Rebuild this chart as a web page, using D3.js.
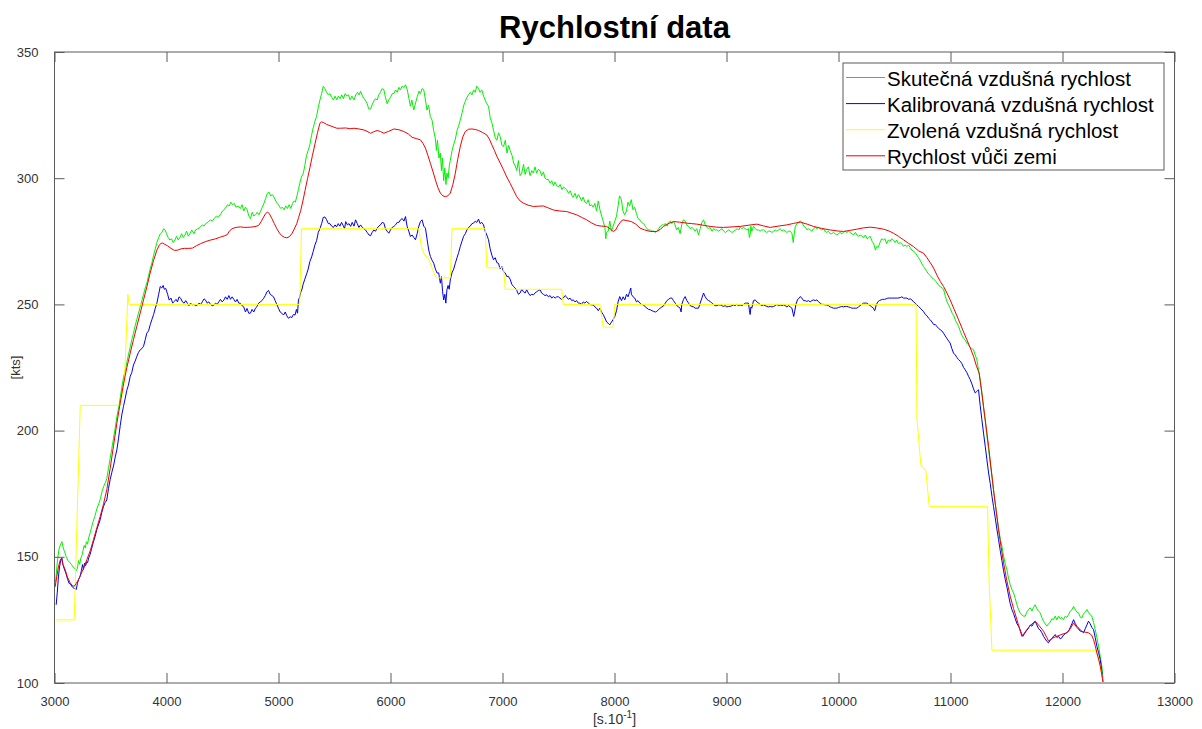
<!DOCTYPE html>
<html>
<head>
<meta charset="utf-8">
<script src="https://cdn.jsdelivr.net/npm/d3@7"></script>
<style>
  html, body { margin: 0; padding: 0; background: #fff; }
  svg { display: block; font-family: "Liberation Sans", Arial, Helvetica, sans-serif; }
</style>
</head>
<body>
<svg id="chart" width="1202" height="729"></svg>
<script>
// Axis ticks
const xTicks = [3000, 4000, 5000, 6000, 7000, 8000, 9000, 10000, 11000, 12000, 13000];
const yTicks = [100, 150, 200, 250, 300, 350];

// Series names (legend order)
const seriesNames = [
  "Skutečná vzdušná rychlost",
  "Kalibrovaná vzdušná rychlost",
  "Zvolená vzdušná rychlost",
  "Rychlost vůči zemi"
];
const seriesColors = ["#00f000", "#0000e6", "#ffff00", "#f00000"];

// True airspeed [time s*10, kts]
const trueAirspeed = [
[3010,140],[3025,148],[3040,153],[3055,155],[3066,156],[3078,153.5],[3090,152],[3105,150],[3120,148.5],[3135,147.8],
[3150,147],[3165,146],[3180,145.5],[3195,144.5],[3205,145.5],[3214,148.5],[3225,147],[3235,149.5],[3245,150.5],[3255,152.5],
[3265,154.5],[3275,153.5],[3285,156],[3295,155],[3305,157.5],[3318,159.5],[3330,161.5],[3345,164],[3360,166],[3378,169],
[3395,171],[3410,173],[3425,176],[3440,178],[3455,179.5],[3467,181],[3482,185],[3497,189],[3512,193],[3527,197],
[3542,201],[3557,205.5],[3572,209],[3587,213],[3602,217.5],[3616,221],[3630,223.5],[3646,227],[3660,230],[3676,233],
[3690,236],[3705,238.5],[3720,241.5],[3735,244],[3750,246.5],[3765,249],[3780,251.5],[3795,254],[3810,256.5],[3825,258.5],
[3840,261.5],[3854,264],[3870,266.5],[3885,269.5],[3900,272],[3914,274.5],[3930,276.5],[3945,278],[3960,278.5],[3975,280],
[3988,279.5],[4000,278],[4015,276.5],[4030,275.5],[4045,276],[4060,274.5],[4075,275.5],[4090,277],[4105,275.5],[4120,276.5],
[4135,278],[4150,276.5],[4165,277.5],[4180,279],[4195,277],[4210,278],[4225,279.5],[4245,278],[4260,279.5],[4280,280],
[4300,280.5],[4320,281.5],[4335,281],[4350,282],[4370,282.5],[4390,283.5],[4410,283],[4425,284],[4445,285],[4460,284.5],
[4480,285.5],[4500,287],[4515,287.5],[4530,288.5],[4545,289.5],[4560,289],[4575,290.5],[4590,289.5],[4605,290],[4620,288.5],
[4640,289],[4660,288],[4675,289.5],[4690,287],[4705,288.5],[4720,287.5],[4735,285],[4750,284],[4765,286.5],[4780,285],
[4795,285.5],[4810,286.5],[4825,285.5],[4840,287],[4855,288.5],[4870,290],[4885,292],[4900,294],[4915,294.5],[4930,293],
[4945,293.5],[4960,292.5],[4975,291],[4990,290],[5005,289],[5020,288],[5035,288.5],[5050,287.5],[5065,289],[5080,288],
[5095,289.5],[5110,288],[5125,290],[5140,291],[5150,290.5],[5165,293],[5178,295.5],[5190,298],[5205,300.5],[5222,302],
[5235,305],[5250,309],[5265,311],[5281,313.5],[5295,317],[5310,320],[5325,322.5],[5340,324.5],[5355,328],[5370,331],
[5385,333.5],[5400,336.5],[5414,335.5],[5430,334],[5445,333],[5460,333.5],[5475,332],[5490,331],[5505,332.5],[5520,331],
[5535,332.5],[5550,331.5],[5565,333],[5580,331.5],[5595,333.5],[5610,332.5],[5625,333],[5640,331],[5655,332.5],[5674,331],
[5690,333],[5705,334],[5720,333],[5733,334.5],[5750,332.5],[5765,331.5],[5780,330.5],[5792,329.5],[5805,327.5],[5822,327.5],
[5835,329],[5850,330.5],[5865,331.5],[5881,331],[5895,333],[5910,334],[5925,335.5],[5941,335],[5955,332],[5970,329.5],
[5985,331],[6000,332],[6015,333.5],[6030,333.5],[6045,335],[6060,334],[6075,336],[6089,335],[6105,336.5],[6120,336],
[6134,337],[6150,335],[6165,331.5],[6178,328.5],[6190,331],[6208,327],[6225,330],[6240,332.5],[6255,334.5],[6267,333.5],
[6282,335.5],[6297,335],[6312,331],[6326,327],[6340,329],[6355,324.5],[6371,323],[6385,319],[6401,315.5],[6410,311],
[6420,315],[6432,308],[6445,310],[6455,303],[6463,308],[6475,299],[6485,304],[6495,297.5],[6504,302],[6515,300],
[6525,305],[6534,307],[6550,311],[6565,313.5],[6579,315.5],[6595,319],[6610,321],[6623,323],[6640,326],[6655,329],
[6668,330.5],[6682,332],[6697,333],[6712,334],[6727,333],[6742,335],[6757,334],[6770,336.5],[6786,335.5],[6800,334],
[6815,335],[6831,332.5],[6845,331],[6860,329.5],[6875,328.5],[6890,324],[6905,322],[6920,319],[6935,316],[6950,315],
[6965,318],[6979,316.5],[6995,313],[7009,312.5],[7025,315],[7040,310],[7055,313],[7068,311],[7085,309],[7100,306],
[7113,305],[7128,303],[7142,307],[7157,301],[7172,302],[7188,305.5],[7202,301.5],[7216,303.5],[7231,304.5],[7246,301],
[7261,303],[7276,302],[7290,304.5],[7305,302],[7320,303.5],[7335,303],[7350,301],[7365,302.5],[7380,300],[7395,299.5],
[7410,299.5],[7425,298],[7440,299],[7455,297],[7470,298.5],[7484,297],[7500,296.5],[7515,297.5],[7530,295.5],[7545,296.5],
[7560,296],[7573,295.5],[7590,294],[7605,295],[7620,293],[7632,292.5],[7648,294],[7662,292],[7677,293.5],[7691,292.5],
[7706,291],[7720,292.5],[7736,290.5],[7751,290],[7766,291.5],[7780,289],[7795,289.5],[7810,288.5],[7825,290],[7840,287],
[7855,291],[7870,287.5],[7885,285],[7899,283],[7914,280.5],[7922,276],[7929,278.5],[7944,279],[7958,283],[7973,279],
[7988,281],[8003,283],[8018,285],[8032,289],[8045,293],[8062,291.5],[8075,287],[8090,285.5],[8107,287],[8120,290.5],
[8135,289],[8150,291.5],[8165,287.5],[8180,288.5],[8196,286],[8210,284],[8226,283.5],[8240,282.5],[8259,282],[8275,281],
[8290,280],[8305,279.5],[8319,279.5],[8335,279],[8350,279],[8365,278.5],[8378,279],[8395,280],[8410,281],[8425,281.5],
[8438,281.5],[8455,282],[8470,281],[8485,282.5],[8500,283],[8512,282],[8527,283],[8540,281.5],[8555,279.5],[8570,280.5],
[8586,278],[8600,281.5],[8615,283.5],[8631,283],[8645,281.5],[8660,281],[8675,280],[8691,280.5],[8705,280],[8720,279],
[8735,280],[8750,277.5],[8765,280],[8780,282.5],[8795,283.5],[8810,281.5],[8825,280.5],[8840,280],[8854,280.5],[8870,279],
[8885,280],[8900,279.5],[8915,279.5],[8930,279],[8944,279.5],[8960,280],[8975,279],[8990,278.5],[9005,279],[9020,279.5],
[9033,279],[9050,278.5],[9065,279],[9080,279.5],[9095,280],[9110,279.5],[9122,280.5],[9137,280],[9152,280.5],[9167,280],
[9182,279.5],[9196,280],[9204,276.5],[9211,277.5],[9218,281],[9226,279],[9241,281],[9256,280],[9271,279.5],[9285,279.5],
[9300,279],[9315,279.5],[9330,279.5],[9345,279],[9360,278.5],[9375,279],[9390,279],[9405,278.5],[9420,279],[9435,279.5],
[9450,279],[9465,279.5],[9480,280],[9495,279],[9509,279.5],[9525,279],[9540,278.5],[9555,279],[9570,279],[9585,278],
[9596,274.5],[9605,278],[9615,281],[9630,282],[9643,282.5],[9658,283],[9673,282.5],[9690,281],[9705,280.5],[9720,279.5],
[9735,280],[9747,279.5],[9762,279],[9777,280],[9792,280.5],[9807,280],[9822,280.5],[9836,280],[9850,279.5],[9865,280],
[9880,279],[9895,278.5],[9910,279],[9926,278],[9940,278],[9955,278.5],[9970,278],[9985,277.5],[10000,278],[10015,278.5],
[10030,278],[10045,278.5],[10060,279],[10075,278.5],[10090,279],[10104,278.5],[10120,278],[10135,277.5],[10150,278.5],[10165,277.5],
[10180,277],[10193,277.5],[10210,277],[10225,276.5],[10240,277.5],[10255,276],[10270,276.5],[10283,277],[10300,275],[10315,274],
[10330,271.5],[10342,273],[10355,272.5],[10370,274.5],[10385,276],[10402,275.5],[10415,276],[10430,274],[10445,275.5],[10460,275],
[10475,276],[10491,275.5],[10505,274.5],[10520,275.5],[10535,274],[10551,274.5],[10565,274],[10580,273],[10595,273.5],[10610,273],
[10625,273.5],[10640,272.5],[10655,271.5],[10670,271],[10685,270.5],[10700,269.5],[10715,268.5],[10729,267.5],[10745,266],[10759,265],
[10775,264],[10789,263],[10805,262],[10819,261.5],[10835,260.5],[10850,260],[10863,259.5],[10880,258.5],[10895,257.5],[10910,257],
[10925,256.5],[10938,256],[10955,253],[10970,251],[10985,249.5],[10997,248.5],[11015,246.5],[11030,245.5],[11045,243.5],[11060,242.5],
[11072,241.3],[11090,239],[11105,237.5],[11120,236.5],[11135,235.5],[11146,234.7],[11160,234],[11175,233],[11190,232.5],[11206,232],
[11220,230],[11236,228],[11250,224],[11265,220],[11280,215],[11295,209],[11310,204],[11325,198],[11340,192.5],[11355,187],
[11370,182],[11385,176],[11399,171.3],[11415,166],[11430,161],[11445,157],[11459,154.2],[11475,150],[11490,147],[11503,145],
[11518,141.5],[11533,139],[11548,137],[11563,135.7],[11578,133.5],[11593,131],[11608,129],[11622,127.8],[11637,127],[11652,126.5],
[11667,126.5],[11680,128],[11695,129],[11712,129.8],[11727,128.5],[11741,130],[11756,131],[11770,129.5],[11785,128.5],[11801,127.8],
[11815,126],[11830,124.5],[11845,123.5],[11860,122.5],[11875,123.5],[11890,124],[11905,125.5],[11920,125.1],[11935,126.5],[11950,125],
[11965,126.5],[11980,125.5],[11995,126],[12009,125.1],[12025,126.5],[12040,126],[12054,127.1],[12070,128.5],[12085,129],[12099,130.4],
[12115,129],[12130,128],[12143,127.8],[12160,126],[12173,125.8],[12188,127.5],[12203,128],[12218,129.1],[12232,128],[12247,127],
[12262,126.5],[12277,124],[12292,121.2],[12307,118],[12322,114.6],[12337,110.5],[12351,106.7],[12362,102]
];

// Calibrated airspeed [time s*10, kts]
const calibratedAirspeed = [
[3015,131],[3025,136],[3035,142],[3045,146],[3055,148.5],[3066,149.5],[3075,147],[3085,145.5],[3095,144.3],[3105,143],
[3118,141],[3130,139.5],[3146,139],[3160,138],[3175,137.5],[3186,137.3],[3194,137],[3205,139.5],[3215,141],[3229,142.3],
[3240,144.5],[3250,146.9],[3259,145],[3268,147.5],[3278,146.5],[3288,148],[3295,147.6],[3305,149.5],[3318,150.9],[3330,153],
[3345,155.5],[3363,158.1],[3378,160.8],[3395,163],[3408,164.7],[3422,167.5],[3438,170],[3452,171.5],[3467,172.5],[3482,177],
[3497,180.6],[3512,183.5],[3527,186],[3542,189.5],[3557,192.4],[3572,197],[3587,202],[3602,206.5],[3616,209.6],[3630,212.5],
[3646,216],[3660,218],[3676,221.5],[3690,223],[3705,226],[3720,227.5],[3735,229.4],[3750,231],[3765,232],[3780,232.5],
[3795,233.4],[3810,236],[3824,238.6],[3840,239.5],[3855,242],[3869,243.9],[3885,246],[3900,248.5],[3914,250.5],[3930,254],
[3944,257.1],[3958,256.5],[3970,257.5],[3980,256],[3994,256.3],[4010,254],[4024,251.7],[4040,252.5],[4055,250.5],[4068,251.1],
[4085,252],[4098,251],[4112,253],[4127,252.4],[4142,251],[4157,250.5],[4172,251.5],[4187,250.4],[4200,249.5],[4215,250.5],
[4230,249.8],[4245,250],[4260,249.5],[4275,249.7],[4290,250.5],[4305,250],[4320,251],[4335,252.2],[4349,251.7],[4363,250.5],
[4378,251],[4393,250],[4408,249.5],[4423,249.7],[4438,250.5],[4452,250],[4467,251],[4482,252],[4497,251],[4512,251.7],
[4527,253],[4542,252],[4557,253.5],[4571,252],[4586,253],[4601,252],[4616,251],[4630,252],[4645,250.5],[4660,250.4],
[4675,249.5],[4690,249],[4705,247],[4719,248.4],[4734,246.5],[4749,246.5],[4764,248],[4779,247],[4794,248.5],[4808,249.1],
[4823,250.5],[4838,251],[4852,251.5],[4867,252.4],[4882,253.5],[4897,255],[4911,255.5],[4926,254],[4941,253.5],[4956,253],
[4970,251.5],[4985,250],[5000,248.4],[5015,247],[5030,246.5],[5045,245.8],[5060,247],[5074,245.5],[5089,244.5],[5104,245.1],
[5119,244.8],[5133,246],[5148,245.8],[5160,248],[5170,246.5],[5178,251.7],[5190,253],[5200,255],[5208,255.7],[5220,258],
[5235,260],[5252,262.2],[5265,264],[5280,267],[5296,268.8],[5310,271],[5325,273.5],[5341,275.4],[5355,278.5],[5370,280],
[5385,282],[5400,284.5],[5415,284.6],[5430,283.5],[5445,282],[5459,282],[5475,281],[5490,280.5],[5505,281.5],[5518,280.7],
[5533,282],[5548,281],[5563,282.5],[5577,281.3],[5590,280],[5600,282.8],[5615,281.5],[5630,282],[5644,280.9],[5658,282.5],
[5674,281],[5688,283.5],[5703,282],[5718,280.5],[5733,281.5],[5748,280.5],[5763,280],[5777,279.5],[5792,278.5],[5808,277.5],
[5822,277.2],[5836,278.5],[5851,279.5],[5866,279],[5881,280.2],[5895,281],[5910,281.5],[5926,282.5],[5941,282.2],[5955,280],
[5970,279],[5985,278.2],[6000,279.5],[6015,280.5],[6030,280.9],[6045,281.5],[6060,282.5],[6075,282.5],[6089,283.5],[6105,284],
[6120,283],[6134,284.8],[6148,281],[6163,279],[6178,276.9],[6193,277.5],[6208,276.5],[6223,275.6],[6238,278],[6253,281],
[6267,282.8],[6282,283.5],[6297,281],[6312,280.2],[6326,276],[6341,271.6],[6356,269],[6371,267.5],[6386,266.3],[6401,264],
[6416,262.4],[6430,262.5],[6445,258.4],[6455,261],[6465,255],[6475,251.8],[6485,254],[6494,250.5],[6504,255.8],[6514,257.5],
[6524,256],[6534,259.7],[6549,262.5],[6564,264],[6579,266.3],[6594,268.5],[6608,270.5],[6623,272.9],[6638,275],[6653,277],
[6668,278],[6682,279.5],[6697,280.5],[6712,281],[6727,282],[6742,282.2],[6757,283],[6771,282.5],[6786,283.8],[6800,282],
[6815,282.5],[6831,281.5],[6845,279],[6860,277.5],[6875,275.6],[6890,272],[6905,269.5],[6920,267.7],[6935,268.5],[6950,266.5],
[6964,266.3],[6979,264],[6994,265],[7009,263],[7024,262.5],[7039,261],[7053,261.1],[7068,260],[7083,258],[7098,257.1],
[7113,256.5],[7128,255.5],[7142,254],[7157,254.5],[7172,256],[7187,255],[7202,254.5],[7216,255.8],[7231,254.5],[7246,253.5],
[7261,254],[7276,253.8],[7290,254.5],[7305,255],[7320,255.5],[7335,255.8],[7350,254.5],[7365,254],[7380,253.5],[7395,253.8],
[7410,253],[7425,253.5],[7440,252.5],[7454,253.1],[7470,252.5],[7484,253],[7499,253],[7513,252.5],[7528,252],[7543,252.5],
[7558,253.5],[7573,252.9],[7588,252],[7603,252.5],[7618,251.5],[7632,251.8],[7647,251],[7662,251.5],[7677,250.5],[7691,250.5],
[7706,250],[7721,251],[7736,250.5],[7751,251.2],[7766,250.5],[7780,250],[7795,249.8],[7810,249.8],[7825,249],[7840,248.5],
[7855,247.5],[7869,248.5],[7884,247],[7899,246],[7914,244.6],[7930,243],[7944,242.5],[7958,241.9],[7973,243],[7988,244],
[8003,245.2],[8018,247.5],[8032,251],[8047,253.1],[8062,251.5],[8077,253],[8092,251.8],[8107,254],[8121,253],[8136,255.1],
[8145,256.5],[8151,254],[8166,253],[8181,252.5],[8196,251],[8210,251.5],[8226,250.5],[8240,250],[8259,249.8],[8275,249],
[8290,248.5],[8305,248],[8319,247.9],[8335,247.5],[8350,247.2],[8365,247],[8378,247.2],[8393,248],[8408,248.5],[8423,249],
[8438,249.4],[8453,250.5],[8468,251.5],[8483,252],[8497,252.5],[8512,252.5],[8527,251.5],[8542,250.5],[8557,249.5],[8571,249],
[8586,248.5],[8595,247],[8601,250],[8616,252],[8631,253.1],[8646,251.5],[8661,250.5],[8676,249.5],[8691,249.2],[8706,249],
[8720,248.5],[8735,248.5],[8750,248.5],[8765,250.5],[8780,252.5],[8795,254.5],[8810,253],[8825,252],[8840,251.5],[8854,251.2],
[8869,250.5],[8884,250],[8899,249.5],[8914,249.5],[8929,249.8],[8944,249.8],[8958,249.5],[8973,249.2],[8988,249.5],[9003,249],
[9018,249.2],[9033,249.2],[9048,249.5],[9063,249.8],[9078,249.5],[9092,250],[9107,249.5],[9122,249.8],[9137,249.5],[9152,250],
[9167,250.5],[9182,250.5],[9196,250.5],[9205,247.5],[9211,246],[9218,249],[9226,248.5],[9241,251.5],[9256,251.8],[9271,251],
[9286,250.5],[9300,250],[9315,249.5],[9330,249.8],[9345,249.5],[9360,249.2],[9375,249],[9390,249.2],[9405,249],[9420,249.2],
[9435,249.5],[9450,250],[9465,249.5],[9480,249.8],[9494,249.5],[9509,249.8],[9524,249.5],[9539,249],[9554,249.5],[9569,249],
[9584,248.5],[9594,246.5],[9600,245.2],[9608,247],[9620,250],[9635,252],[9650,252.5],[9658,253.1],[9673,252.5],[9688,251.5],
[9703,251.5],[9717,251.2],[9732,251.5],[9747,251],[9762,251.5],[9777,251.8],[9792,251.5],[9807,251.8],[9822,251],[9836,250.5],
[9851,250],[9866,250],[9881,249.8],[9896,249.8],[9911,249.5],[9925,249],[9940,248.8],[9955,248.5],[9970,248.5],[9985,248.5],
[10000,248.8],[10015,249],[10029,249.2],[10044,249],[10059,249.2],[10074,249.2],[10089,249],[10104,248.8],[10119,248.5],[10134,248.5],
[10149,248.5],[10164,248.5],[10178,249],[10193,249.5],[10208,250],[10223,250.5],[10238,250.5],[10253,250.5],[10268,250],[10283,249.5],
[10297,249],[10312,248.5],[10322,247.5],[10327,247.9],[10335,249.5],[10350,251],[10365,251.5],[10380,251.8],[10395,252],[10410,252],
[10425,252.2],[10440,252.5],[10455,252.5],[10470,252.5],[10485,252.5],[10500,252.5],[10515,252.5],[10530,252.5],[10551,252.7],[10566,253],
[10581,252.5],[10596,252.5],[10611,252.5],[10626,252],[10640,252.2],[10655,251.8],[10670,251],[10685,250.5],[10700,249.8],[10715,249.2],
[10730,248.5],[10745,247.8],[10759,247.2],[10775,246],[10790,245.5],[10805,244.5],[10819,243.9],[10835,243],[10850,242],[10865,242],
[10878,241.3],[10893,240.5],[10908,240],[10923,239.5],[10938,238.6],[10953,237.5],[10968,236.5],[10983,235.5],[10997,234.7],[11012,232.5],
[11027,230.7],[11042,230],[11057,229],[11072,228.1],[11087,227.5],[11102,226.5],[11117,225],[11131,224.1],[11146,223],[11161,221.5],
[11176,220.2],[11191,218.5],[11206,216.5],[11221,214.9],[11235,215.5],[11250,216.2],[11265,210],[11280,204.3],[11295,199],[11310,193.8],
[11325,188.5],[11340,183.2],[11355,179],[11370,174],[11384,170],[11399,165.5],[11414,161],[11429,156.8],[11444,152.5],[11459,148.5],
[11474,144.5],[11489,141],[11504,138],[11519,134.5],[11533,131.5],[11548,129.1],[11563,127.5],[11578,125.5],[11593,123.5],[11608,122.5],
[11622,121],[11635,119.5],[11646,118.5],[11660,119.5],[11675,120.5],[11697,121.8],[11712,123],[11727,122.5],[11741,123.5],[11756,124.5],
[11771,123],[11786,121.5],[11801,121],[11816,119.9],[11831,118.5],[11845,117.5],[11860,116.5],[11875,115.9],[11890,117],[11905,117.5],
[11920,118.5],[11935,119.2],[11950,118],[11965,118.5],[11979,117.5],[11994,117.9],[12009,119],[12024,119.5],[12039,120],[12054,120.5],
[12069,122],[12084,123.5],[12099,125.1],[12114,123.5],[12128,122.5],[12143,121.8],[12158,121],[12173,120.5],[12188,119.9],[12203,121.5],
[12218,123],[12232,124.5],[12247,123.5],[12262,122],[12277,121.2],[12292,118],[12307,114.6],[12322,112],[12337,109.3],[12350,105],
[12361,100.5]
];

// Selected airspeed [time s*10, kts]
const selectedAirspeed = [
[3015,125],[3176,125],[3230,210],[3587,210],[3625,220],[3655,254],[3665,250],[5190,250],[5205,280],[6252,280],
[6275,273],[6300,270],[6340,268],[6401,261],[6416,260.5],[6534,260.5],[6549,280],[6846,280],[6860,264.5],[7009,264.5],
[7024,256],[7528,256],[7543,250],[7869,250],[7900,241],[7988,241],[8003,250],[10693,250],[10700,205],[10736,186],
[10765,185],[10780,184],[10810,170],[11331,170],[11345,140],[11370,113],[12300,113],[12330,108],[12361,101]
];

// Ground speed [time s*10, kts]
const groundSpeed = [
[3005,138],[3020,142],[3035,146],[3050,148.5],[3062,149.5],[3075,147],[3095,144.9],[3115,142],[3140,139.7],[3160,138.6],
[3176,138.3],[3195,139.5],[3215,141],[3235,143],[3260,145.5],[3289,148.9],[3320,152.5],[3348,156.8],[3378,161.5],[3408,166],
[3438,171],[3467,176.6],[3497,185],[3527,194],[3557,203],[3587,211],[3616,218.5],[3646,225],[3676,230.7],[3705,236],
[3735,241.3],[3765,246.5],[3795,251.8],[3825,257],[3854,262.4],[3885,267.5],[3914,271.5],[3935,273.4],[3950,274.2],[3965,274.3],
[3985,273.8],[4009,273.2],[4040,272.2],[4070,271.4],[4100,271.5],[4130,272],[4160,272.2],[4200,272.2],[4231,272.3],[4270,273.3],
[4305,274.1],[4350,274.9],[4394,275.5],[4440,276],[4482,276.7],[4520,277.2],[4542,277.6],[4560,279],[4586,280],[4620,280.5],
[4660,280.7],[4700,280.5],[4749,280.6],[4790,280.8],[4823,281.3],[4845,282.8],[4867,284.6],[4885,286],[4903,286.6],[4920,285.8],
[4941,284],[4963,282],[4985,280],[5008,278.3],[5030,277.2],[5052,276.6],[5074,276.4],[5097,276.8],[5119,278],[5140,279.8],
[5163,282],[5180,284.5],[5199,287.3],[5218,291],[5237,295.1],[5259,299.8],[5281,304.3],[5303,309],[5326,313.6],[5348,318],
[5370,321.8],[5385,322.3],[5400,322.1],[5430,321.3],[5459,320.8],[5490,320.3],[5520,319.8],[5555,319.8],[5600,319.9],[5640,319.6],
[5674,319.8],[5720,319.5],[5763,319.1],[5790,318.6],[5822,317.8],[5850,318.4],[5881,318.9],[5910,318.5],[5941,317.8],[5985,318.6],
[6030,319.5],[6075,319.2],[6119,318.5],[6160,317.5],[6193,316.2],[6230,315.7],[6267,315.2],[6290,313.8],[6312,311.9],[6334,309],
[6356,305.9],[6380,302.5],[6401,299.3],[6423,296.3],[6445,294.1],[6468,293],[6490,292.7],[6512,293],[6534,294.1],[6557,297.5],
[6579,302],[6600,307.5],[6623,312.5],[6645,316.3],[6668,318.5],[6697,319.4],[6727,319.5],[6757,319.3],[6786,318.9],[6823,318.1],
[6860,317.1],[6883,315.5],[6905,313.2],[6928,311],[6950,308.6],[6980,306],[7009,303.3],[7038,300.5],[7068,298],[7098,295.3],
[7127,292.7],[7157,291],[7187,290.1],[7230,289.3],[7276,288.8],[7320,288.9],[7365,289],[7410,288.2],[7454,287.4],[7513,287],
[7573,286.8],[7620,286.1],[7662,285.5],[7706,284.5],[7751,283.5],[7795,282.3],[7840,281.3],[7885,281],[7929,280.9],[7960,280],
[7988,278.9],[8010,279.5],[8035,281.5],[8060,283],[8077,283.5],[8110,283.2],[8151,282.8],[8190,281.8],[8229,280.2],[8270,279.5],
[8319,278.9],[8378,278.9],[8410,279.8],[8438,280.9],[8480,282],[8527,282.8],[8580,282.6],[8646,282.2],[8690,282],[8735,281.8],
[8800,281.3],[8854,280.9],[8910,280.6],[8973,280.5],[9050,280.7],[9122,280.9],[9200,281.4],[9271,281.8],[9330,281.1],[9390,280.5],
[9460,281],[9539,281.5],[9600,282.1],[9658,282.6],[9720,281.8],[9777,280.9],[9850,280.1],[9926,279.5],[9990,279.1],[10045,278.9],
[10100,279.3],[10164,279.8],[10220,280.3],[10283,280.6],[10340,280.3],[10402,279.8],[10450,279.1],[10491,278.2],[10535,277],[10580,275.6],
[10625,274.2],[10670,272.9],[10715,271.2],[10759,270.3],[10790,268.5],[10820,266.5],[10849,264.4],[10880,261.5],[10910,259],[10938,257.1],
[10968,254.5],[10997,251.8],[11035,247.8],[11072,243.9],[11110,239.8],[11146,236],[11176,232.8],[11206,229.4],[11232,225.5],[11256,222.8],
[11275,216.5],[11295,209.6],[11318,201.5],[11340,193.8],[11362,185.2],[11384,176.6],[11407,168.5],[11429,160.8],[11452,153.8],[11474,147.6],
[11503,140.5],[11533,134.4],[11563,129.5],[11593,125.1],[11615,121.8],[11637,118.5],[11660,119.8],[11682,121.2],[11718,123],[11756,124.5],
[11795,122.5],[11831,120.5],[11860,118],[11875,116.6],[11910,117.8],[11950,118.5],[11995,119.3],[12039,119.9],[12070,121.5],[12099,123.8],
[12125,122.2],[12158,120.5],[12195,120.2],[12232,119.9],[12260,119],[12277,117.2],[12292,114.8],[12307,111.9],[12322,109.5],[12337,106.7],
[12350,103.5],[12362,100.5]
];

const series = [trueAirspeed, calibratedAirspeed, selectedAirspeed, groundSpeed];

// Layout
const W = 1202, H = 729;
const plot = { left: 54.5, top: 52, width: 1120, height: 631 };
const axisColor = "#5a5a5a";
const labelColor = "#333";

const svg = d3.select("#chart");

const x = d3.scaleLinear().domain([3000, 13000]).range([plot.left, plot.left + plot.width]);
const y = d3.scaleLinear().domain([100, 350]).range([plot.top + plot.height, plot.top]);

// Clip path for data lines
svg.append("defs").append("clipPath").attr("id", "plotClip")
  .append("rect")
  .attr("x", plot.left).attr("y", plot.top)
  .attr("width", plot.width).attr("height", plot.height);

// Title
svg.append("text")
  .attr("x", plot.left + plot.width / 2)
  .attr("y", 38)
  .attr("text-anchor", "middle")
  .attr("font-size", 31)
  .attr("font-weight", "bold")
  .attr("fill", "#000")
  .text("Rychlostní data");

// Data lines
const line = d3.line().x(d => x(d[0])).y(d => y(d[1]));
const linesG = svg.append("g").attr("clip-path", "url(#plotClip)");
series.forEach((s, i) => {
  linesG.append("path")
    .datum(s)
    .attr("fill", "none")
    .attr("stroke", seriesColors[i])
    .attr("stroke-width", 1)
    .attr("stroke-linejoin", "round")
    .attr("d", line);
});

// Axes (ticks pointing inward, box on)
const tickLen = 10;
const styleAxis = g => {
  g.select(".domain").remove();
  g.selectAll(".tick line").attr("stroke", axisColor);
  g.selectAll(".tick text").attr("fill", labelColor).attr("font-size", 13)
    .attr("font-family", "'Liberation Sans', Arial, sans-serif");
};

svg.append("g")
  .attr("transform", `translate(0,${plot.top + plot.height})`)
  .call(d3.axisBottom(x).tickValues(xTicks).tickFormat(d3.format("d")).tickSizeInner(-tickLen).tickSizeOuter(0).tickPadding(14))
  .call(styleAxis);

svg.append("g")
  .attr("transform", `translate(0,${plot.top})`)
  .call(d3.axisTop(x).tickValues(xTicks).tickFormat("").tickSizeInner(-tickLen).tickSizeOuter(0))
  .call(styleAxis);

svg.append("g")
  .attr("transform", `translate(${plot.left},0)`)
  .call(d3.axisLeft(y).tickValues(yTicks).tickFormat(d3.format("d")).tickSizeInner(-tickLen).tickSizeOuter(0).tickPadding(16))
  .call(styleAxis);

svg.append("g")
  .attr("transform", `translate(${plot.left + plot.width},0)`)
  .call(d3.axisRight(y).tickValues(yTicks).tickFormat("").tickSizeInner(-tickLen).tickSizeOuter(0))
  .call(styleAxis);

// Box
svg.append("rect")
  .attr("x", plot.left).attr("y", plot.top)
  .attr("width", plot.width).attr("height", plot.height)
  .attr("fill", "none").attr("stroke", axisColor).attr("stroke-width", 1);

// Axis labels
const xl = svg.append("text")
  .attr("x", plot.left + plot.width / 2)
  .attr("y", 724)
  .attr("text-anchor", "middle")
  .attr("font-size", 14)
  .attr("fill", labelColor);
xl.append("tspan").text("[s.10");
xl.append("tspan").attr("font-size", 10).attr("dy", -6).text("-1");
xl.append("tspan").attr("dy", 6).text("]");

svg.append("text")
  .attr("transform", `translate(20,${plot.top + plot.height / 2}) rotate(-90)`)
  .attr("text-anchor", "middle")
  .attr("font-size", 13)
  .attr("fill", labelColor)
  .text("[kts]");

// Legend
const legend = { x: 843, y: 63, w: 321, h: 107, rowY0: 77.5, rowStep: 26.1 };
const lg = svg.append("g");
lg.append("rect")
  .attr("x", legend.x).attr("y", legend.y)
  .attr("width", legend.w).attr("height", legend.h)
  .attr("fill", "#fff").attr("stroke", axisColor).attr("stroke-width", 1);
seriesNames.forEach((name, i) => {
  const ry = legend.rowY0 + i * legend.rowStep;
  lg.append("line")
    .attr("x1", legend.x + 3).attr("x2", legend.x + 42)
    .attr("y1", ry).attr("y2", ry)
    .attr("stroke", seriesColors[i]).attr("stroke-width", 1);
  lg.append("text")
    .attr("x", legend.x + 44)
    .attr("y", ry + 8)
    .attr("font-size", 20.5)
    .attr("fill", "#000")
    .text(name);
});
</script>
</body>
</html>
